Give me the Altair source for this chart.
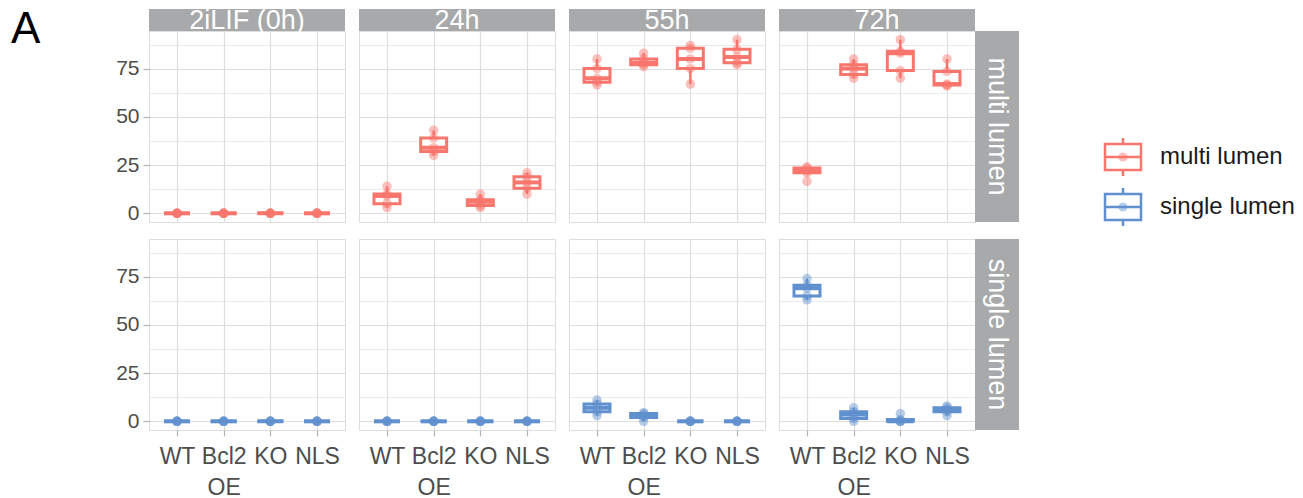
import altair as alt
import pandas as pd

FONT = "Liberation Sans"

times = ["2iLIF (0h)", "24h", "55h", "72h"]
genotypes = ["WT", "Bcl2 OE", "KO", "NLS"]
lumens = ["multi lumen", "single lumen"]
colors = ["#F8766D", "#6190CE"]

# percentage of structures per replicate; one inner list per genotype (WT, Bcl2 OE, KO, NLS)
multi_0h = [[0, 0, 0, 0, 0], [0, 0, 0, 0, 0], [0, 0, 0, 0, 0], [0, 0, 0, 0, 0]]
multi_24h = [[3, 5, 9, 10, 14], [30, 32, 34, 39, 43], [3, 4, 6, 7, 10], [10, 13, 16, 19, 21]]
multi_55h = [[66.5, 68, 70, 75, 80], [76, 77, 78, 80, 83], [67, 75, 80, 85.5, 87], [77, 78, 81, 85, 90]]
multi_72h = [[16.5, 21, 22, 23.5, 24], [70, 72, 75, 77, 80], [70, 74, 83, 84, 90], [66, 66.5, 67, 73.5, 80]]

single_0h = [[0, 0, 0, 0, 0], [0, 0, 0, 0, 0], [0, 0, 0, 0, 0], [0, 0, 0, 0, 0]]
single_24h = [[0, 0, 0, 0, 0], [0, 0, 0, 0, 0], [0, 0, 0, 0, 0], [0, 0, 0, 0, 0]]
single_55h = [[3, 5, 7, 9, 11], [0, 2, 3, 4, 4.5], [0, 0, 0, 0, 0], [0, 0, 0, 0, 0]]
single_72h = [[63, 65, 69, 70.5, 74], [0, 1.5, 3.5, 5, 7], [0, 0, 0, 1, 4], [3, 5, 6, 7, 8]]

series = {
    ("multi lumen", "2iLIF (0h)"): multi_0h,
    ("multi lumen", "24h"): multi_24h,
    ("multi lumen", "55h"): multi_55h,
    ("multi lumen", "72h"): multi_72h,
    ("single lumen", "2iLIF (0h)"): single_0h,
    ("single lumen", "24h"): single_24h,
    ("single lumen", "55h"): single_55h,
    ("single lumen", "72h"): single_72h,
}

rows = []
for (lumen, time), groups in series.items():
    for geno, vals in zip(genotypes, groups):
        for v in vals:
            rows.append({"lumen": lumen, "time": time, "genotype": geno, "value": v})
df = pd.DataFrame(rows)

W, H = 196, 191
STRIP_H = 22
STRIP_W = 44
STRIP_FILL = "#A7A9AA"
GRID = "#DEDEDE"
BORDER = "#B3B3B3"
TEXT = "#4D4D4D"
grid_vals = [0, 12.5, 25, 37.5, 50, 62.5, 75, 87.5]
minor = "datum.value % 25 !== 0"


def panel(ti, li):
    time, lumen, color = times[ti], lumens[li], colors[li]
    left, bottom = ti == 0, li == 1
    data = df[(df.time == time) & (df.lumen == lumen)]

    yaxis = alt.Axis(
        values=grid_vals, title=None, domain=False, grid=True, gridColor=GRID,
        gridWidth={"condition": {"test": minor, "value": 0.6}, "value": 1.2},
        labels=left, ticks=left, tickSize=6, tickColor=BORDER, tickWidth=1.2,
        tickOpacity={"condition": {"test": minor, "value": 0}, "value": 1},
        labelExpr="datum.value % 25 === 0 ? datum.label : ''",
        labelFontSize=21, labelColor=TEXT, labelFont=FONT, labelPadding=4,
    )
    xaxis = alt.Axis(
        title=None, domain=False, grid=True, gridColor=GRID, gridWidth=1.2,
        labels=bottom, ticks=bottom, tickSize=6, tickColor=BORDER, tickWidth=1.2,
        labelAngle=0, labelExpr="split(datum.label, ' ')", labelLineHeight=31,
        labelFontSize=23, labelColor=TEXT, labelFont=FONT, labelPadding=9,
    )
    x = alt.X("genotype:N", sort=genotypes,
              scale=alt.Scale(type="point", domain=genotypes, padding=0.6), axis=xaxis)
    y = alt.Y("value:Q", scale=alt.Scale(domain=[-4.5, 94.5], nice=False, zero=False), axis=yaxis)

    base = alt.Chart(data)
    box = base.mark_boxplot(
        extent=1.5, size=26, outliers=False, ticks=False,
        box={"fill": "white", "stroke": color, "strokeWidth": 3, "opacity": 1},
        median={"color": color, "fill": color, "thickness": 4, "opacity": 1},
        rule={"color": color, "stroke": color, "strokeWidth": 2.5, "opacity": 1},
    ).encode(x=x, y=y)
    pts = base.mark_circle(size=90, opacity=0.45, color=color).encode(x=x, y=y)

    layers = []
    if li == 0:
        lab = alt.Chart(pd.DataFrame({"label": [time]}))
        layers.append(lab.mark_rect(color=STRIP_FILL).encode(
            x=alt.value(0), x2=alt.value(W), y=alt.value(-STRIP_H), y2=alt.value(0)))
        layers.append(lab.mark_text(fontSize=27, color="white", font=FONT, align="center",
                                    baseline="alphabetic").encode(
            x=alt.value(W / 2), y=alt.value(-2), text="label:N"))
    if ti == len(times) - 1:
        lab = alt.Chart(pd.DataFrame({"label": [lumen]}))
        layers.append(lab.mark_rect(color=STRIP_FILL).encode(
            x=alt.value(W), x2=alt.value(W + STRIP_W), y=alt.value(0), y2=alt.value(H)))
        layers.append(lab.mark_text(fontSize=27, color="white", font=FONT, align="center",
                                    baseline="middle", angle=90).encode(
            x=alt.value(W + STRIP_W / 2), y=alt.value(H / 2), text="label:N"))
    if ti == 0 and li == 0:
        tag = alt.Chart(pd.DataFrame({"tag": ["A"]}))
        layers.append(tag.mark_text(fontSize=44, color="black", font=FONT, align="left",
                                    baseline="alphabetic").encode(
            x=alt.value(-138), y=alt.value(12), text="tag:N"))
    layers += [box, pts]
    return alt.layer(*layers).properties(width=W, height=H)


grid_rows = [alt.hconcat(*[panel(ti, li) for ti in range(len(times))], spacing=12)
             for li in range(len(lumens))]
grid = alt.vconcat(*grid_rows, spacing=14)

# legend drawn as boxplot glyphs, one per lumen category
BOX_PATH = ("M-0.947,-0.684H0.947V0.684H-0.947Z M-0.947,0H0.947 "
            "M0,-1V-0.684 M0,0.684V1")
leg_df = pd.DataFrame({"lumen": lumens})
ly = alt.Y("lumen:N", scale=alt.Scale(type="point", domain=lumens, range=[126, 176], padding=0),
           axis=None)
lc = alt.Color("lumen:N", scale=alt.Scale(domain=lumens, range=colors), legend=None)
leg = alt.Chart(leg_df)
glyph = leg.mark_point(shape=BOX_PATH, size=1444, filled=False, strokeWidth=2.5,
                       opacity=1).encode(x=alt.value(103), y=ly, color=lc)
dot = leg.mark_circle(size=85, opacity=0.45).encode(x=alt.value(103), y=ly, color=lc)
lab = leg.mark_text(align="left", baseline="middle", fontSize=24, font=FONT,
                    color="#1A1A1A").encode(x=alt.value(140), y=ly, text="lumen:N")
legend = alt.layer(glyph, dot, lab).properties(
    width=270, height=H, view=alt.ViewBackground(strokeOpacity=0))

chart = alt.hconcat(grid, legend, spacing=0).properties(
    padding={"left": 10, "top": 6, "right": 0, "bottom": 0}
).configure_view(
    stroke=BORDER, strokeWidth=1.3
).configure(background="white", font=FONT)

chart.save("out.html", embed_options={"renderer": "svg", "actions": False})
